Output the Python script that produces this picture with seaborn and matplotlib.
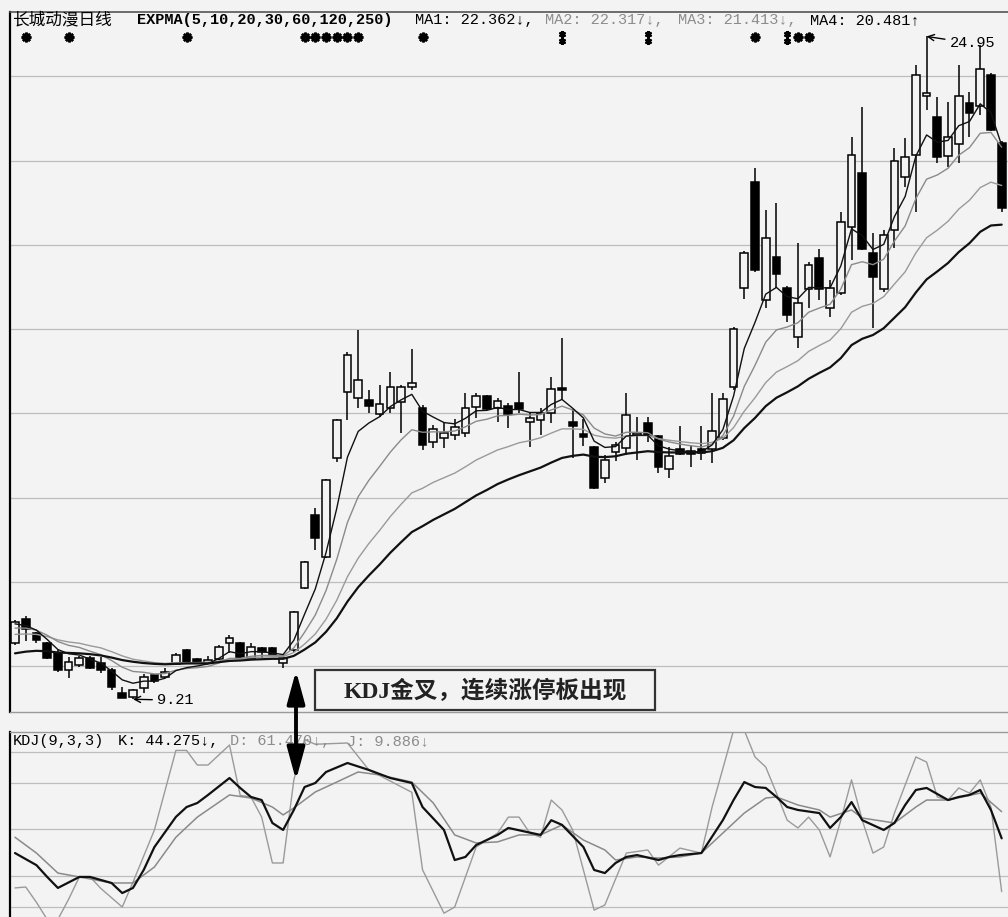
import numpy as np
import pandas as pd
import matplotlib
matplotlib.use("Agg")
import matplotlib.pyplot as plt
import seaborn as sns
from matplotlib.patches import Rectangle, FancyArrowPatch

# ---------------- data ----------------
opens = [10.55, 11.12, 10.78, 10.55, 10.31, 9.90, 10.02, 10.19, 10.07, 9.90,
         9.36, 9.26, 9.48, 9.79, 9.74, 10.05, 10.38, 10.17, 10.07, 10.17,
         10.55, 10.55, 10.17, 10.43, 10.43, 10.07, 10.38, 11.85, 13.59, 12.59,
         14.94, 16.51, 16.37, 16.32, 15.99, 16.13, 16.27, 16.63, 16.13, 15.32,
         15.42, 15.49, 15.53, 16.15, 16.41, 16.13, 16.18, 16.25, 15.80, 15.84,
         16.01, 16.60, 15.80, 15.51, 15.20, 14.47, 15.08, 15.18, 15.49, 15.77,
         15.46, 14.68, 15.15, 15.11, 15.15, 15.15, 15.42, 16.63, 18.98, 21.50,
         18.69, 19.71, 18.98, 17.81, 18.95, 19.69, 18.50, 18.86, 20.43, 21.71,
         19.81, 18.95, 20.36, 21.62, 22.14, 23.54, 23.04, 22.11, 22.40, 23.37,
         23.30, 24.04, 22.42]
highs = [11.09, 11.19, 10.81, 10.57, 10.38, 10.21, 10.24, 10.24, 10.21, 9.95,
         9.50, 9.45, 9.81, 9.81, 9.95, 10.31, 10.40, 10.19, 10.24, 10.50,
         10.74, 10.57, 10.55, 10.45, 10.45, 10.24, 11.31, 12.49, 13.75, 14.44,
         15.87, 17.46, 17.98, 16.56, 16.67, 16.98, 16.67, 17.53, 16.20, 15.72,
         15.77, 15.87, 16.48, 16.48, 16.44, 16.37, 16.25, 16.98, 16.03, 16.13,
         16.86, 17.79, 16.10, 15.87, 15.23, 15.01, 15.32, 16.48, 15.91, 15.91,
         15.49, 15.20, 15.70, 15.25, 15.70, 16.48, 16.48, 18.05, 19.86, 21.83,
         20.83, 21.00, 19.03, 20.05, 19.60, 19.90, 19.17, 20.78, 22.57, 23.28,
         20.28, 20.36, 22.30, 22.54, 24.28, 24.95, 23.52, 23.40, 24.28, 23.63,
         24.75, 24.09, 22.47]
lows = [10.50, 10.59, 10.55, 10.17, 9.86, 9.71, 9.98, 9.93, 9.83, 9.43,
        9.23, 9.21, 9.36, 9.60, 9.71, 10.02, 10.07, 10.05, 10.05, 10.14,
        10.31, 10.17, 10.14, 10.19, 10.24, 9.95, 10.33, 11.83, 12.76, 12.57,
        14.85, 15.84, 16.13, 16.01, 15.91, 16.01, 15.53, 16.56, 15.13, 15.18,
        15.18, 15.37, 15.44, 15.89, 16.08, 15.80, 15.65, 16.01, 15.20, 15.49,
        15.77, 16.32, 14.94, 15.23, 14.20, 14.35, 14.87, 15.01, 14.89, 15.32,
        14.58, 14.47, 15.01, 14.73, 14.89, 14.82, 15.37, 16.56, 18.72, 19.36,
        18.50, 18.98, 18.17, 17.55, 18.50, 18.69, 18.29, 18.81, 19.64, 19.88,
        18.03, 18.88, 19.93, 21.38, 20.78, 23.21, 21.95, 21.85, 21.95, 22.57,
        23.09, 22.71, 20.78]
closes = [11.05, 10.88, 10.62, 10.19, 9.90, 10.10, 10.19, 9.95, 9.90, 9.50,
          9.25, 9.43, 9.74, 9.64, 9.86, 10.26, 10.10, 10.07, 10.14, 10.45,
          10.67, 10.19, 10.45, 10.33, 10.26, 10.19, 11.28, 12.47, 13.04, 14.42,
          15.84, 17.39, 16.79, 16.18, 16.22, 16.63, 16.63, 16.72, 15.25, 15.63,
          15.53, 15.68, 16.13, 16.41, 16.10, 16.29, 15.99, 16.10, 15.89, 16.01,
          16.58, 16.56, 15.70, 15.44, 14.23, 14.89, 15.25, 15.96, 15.53, 15.49,
          14.73, 14.99, 15.04, 15.04, 15.06, 15.58, 16.34, 18.00, 19.81, 19.41,
          20.17, 19.31, 18.34, 18.62, 19.52, 18.95, 18.98, 20.55, 22.14, 19.90,
          19.24, 20.24, 22.00, 22.09, 24.04, 23.61, 22.09, 22.57, 23.54, 23.13,
          24.18, 22.73, 20.88]

ma1 = [11.00, 10.96, 10.85, 10.63, 10.39, 10.29, 10.26, 10.16, 10.07, 9.88,
       9.67, 9.59, 9.64, 9.64, 9.71, 9.89, 9.96, 10.00, 10.05, 10.18,
       10.34, 10.29, 10.34, 10.34, 10.31, 10.27, 10.61, 11.23, 11.83, 12.69,
       13.74, 14.96, 15.57, 15.77, 15.92, 16.16, 16.32, 16.45, 16.05, 15.91,
       15.78, 15.75, 15.88, 16.06, 16.07, 16.14, 16.09, 16.09, 16.02, 16.02,
       16.21, 16.33, 16.12, 15.89, 15.34, 15.19, 15.21, 15.46, 15.48, 15.48,
       15.23, 15.15, 15.11, 15.09, 15.08, 15.25, 15.61, 16.41, 17.54, 18.16,
       18.83, 18.99, 18.77, 18.72, 18.99, 18.98, 18.98, 19.50, 20.38, 20.22,
       19.89, 20.01, 20.67, 21.15, 22.11, 22.61, 22.44, 22.48, 22.83, 22.93,
       23.35, 23.14, 22.36]
ma2 = [10.90, 10.90, 10.85, 10.73, 10.58, 10.49, 10.44, 10.35, 10.27, 10.13,
       9.97, 9.87, 9.85, 9.81, 9.82, 9.90, 9.94, 9.96, 9.99, 10.07,
       10.18, 10.18, 10.23, 10.25, 10.25, 10.24, 10.43, 10.80, 11.21, 11.79,
       12.53, 13.41, 14.02, 14.41, 14.74, 15.08, 15.37, 15.61, 15.55, 15.56,
       15.56, 15.58, 15.68, 15.81, 15.86, 15.94, 15.95, 15.98, 15.96, 15.97,
       16.08, 16.17, 16.08, 15.96, 15.65, 15.51, 15.46, 15.55, 15.55, 15.54,
       15.39, 15.32, 15.27, 15.23, 15.20, 15.27, 15.47, 15.93, 16.64, 17.14,
       17.69, 17.98, 18.05, 18.15, 18.40, 18.50, 18.59, 18.95, 19.53, 19.60,
       19.53, 19.66, 20.09, 20.45, 21.10, 21.56, 21.66, 21.82, 22.13, 22.31,
       22.65, 22.67, 22.32]
ma3 = [10.75, 10.76, 10.75, 10.70, 10.62, 10.57, 10.54, 10.48, 10.43, 10.34,
       10.24, 10.16, 10.12, 10.08, 10.06, 10.08, 10.08, 10.08, 10.09, 10.12,
       10.17, 10.17, 10.20, 10.21, 10.22, 10.22, 10.32, 10.52, 10.76, 11.11,
       11.56, 12.12, 12.56, 12.91, 13.22, 13.55, 13.84, 14.11, 14.22, 14.36,
       14.47, 14.58, 14.73, 14.89, 15.01, 15.13, 15.21, 15.30, 15.35, 15.42,
       15.53, 15.63, 15.63, 15.62, 15.48, 15.43, 15.41, 15.46, 15.47, 15.47,
       15.40, 15.36, 15.33, 15.30, 15.28, 15.31, 15.41, 15.66, 16.05, 16.37,
       16.73, 16.98, 17.11, 17.25, 17.47, 17.61, 17.74, 18.01, 18.40, 18.54,
       18.61, 18.77, 19.07, 19.36, 19.81, 20.17, 20.35, 20.56, 20.85, 21.06,
       21.36, 21.49, 21.41]
ma4 = [10.30, 10.34, 10.36, 10.35, 10.32, 10.31, 10.30, 10.28, 10.25, 10.20,
       10.14, 10.10, 10.07, 10.05, 10.04, 10.05, 10.06, 10.06, 10.06, 10.09,
       10.12, 10.13, 10.15, 10.16, 10.17, 10.17, 10.24, 10.39, 10.56, 10.81,
       11.13, 11.53, 11.87, 12.15, 12.41, 12.69, 12.94, 13.18, 13.32, 13.47,
       13.60, 13.73, 13.89, 14.05, 14.18, 14.32, 14.43, 14.53, 14.62, 14.71,
       14.83, 14.94, 14.99, 15.02, 14.97, 14.96, 14.98, 15.04, 15.07, 15.10,
       15.08, 15.07, 15.07, 15.07, 15.07, 15.10, 15.18, 15.36, 15.65, 15.89,
       16.17, 16.37, 16.50, 16.64, 16.82, 16.96, 17.09, 17.31, 17.62, 17.77,
       17.86, 18.02, 18.27, 18.52, 18.87, 19.18, 19.37, 19.57, 19.83, 20.04,
       20.31, 20.46, 20.48]

k_idx = [0, 2, 3, 4, 6, 7, 9, 10, 11, 12, 13, 15, 16, 17, 18, 20, 21, 22, 23, 24,
         25, 26, 27, 28, 29, 31, 33, 35, 37, 38, 40, 41, 42, 43, 45, 46, 49, 50, 51, 53,
         54, 55, 56, 57, 58, 60, 61, 62, 64, 66, 67, 68, 69, 70, 71, 72, 73, 75, 76, 77,
         78, 79, 81, 82, 83, 84, 85, 87, 88, 89, 90, 91, 92]
k_val = [34.8, 27.0, 19.4, 12.3, 19.4, 19.4, 15.5, 9.0, 12.3, 23.9, 38.7, 58.1, 64.5, 67.1, 72.3, 83.2, 76.8, 71.0, 69.0, 54.2,
         49.7, 62.6, 77.4, 80.0, 87.1, 92.9, 88.4, 83.2, 80.0, 64.5, 49.7, 30.3, 32.3, 40.0, 46.5, 51.0, 46.5, 56.0, 53.0, 38.7,
         23.9, 21.9, 28.4, 32.3, 33.5, 30.3, 32.3, 33.5, 34.8, 56.0, 69.0, 80.6, 77.4, 76.8, 71.0, 64.5, 62.6, 60.6, 51.0, 58.0,
         67.7, 56.0, 49.7, 54.2, 65.8, 75.5, 76.8, 69.0, 71.0, 72.3, 75.5, 62.6, 44.3]
d_idx = [0, 2, 4, 6, 9, 11, 13, 15, 17, 20, 22, 24, 25, 26, 28, 30, 32, 34, 37, 39,
         41, 43, 45, 47, 49, 51, 53, 55, 56, 58, 60, 62, 64, 66, 68, 70, 71, 73, 75, 76,
         78, 79, 82, 84, 85, 87, 90, 92]
d_val = [45.0, 34.8, 21.9, 19.4, 15.5, 15.5, 25.8, 45.0, 58.0, 72.3, 70.3, 64.5, 59.4, 63.9, 74.2, 80.6, 87.1, 85.2, 80.6, 67.1,
         46.5, 41.3, 42.0, 46.5, 46.5, 52.9, 43.2, 36.8, 30.3, 32.3, 31.6, 32.3, 34.8, 47.7, 60.6, 70.3, 71.0, 65.8, 62.6, 58.0,
         62.6, 57.4, 54.2, 64.5, 69.0, 69.0, 73.5, 61.5]
j_idx = [0, 1, 2, 3, 4, 5, 6, 7, 8, 10, 11, 13, 15, 16, 17, 18, 20, 21, 22, 23,
         24, 25, 26, 27, 28, 31, 33, 37, 38, 40, 41, 43, 45, 46, 47, 48, 49, 50, 51, 52,
         53, 54, 55, 57, 59, 60, 62, 64, 65, 67, 68, 69, 70, 71, 72, 73, 74, 75, 76, 77,
         78, 79, 80, 81, 82, 84, 85, 86, 87, 88, 89, 90, 91, 92]
j_val = [12.3, 12.9, 3.0, -8.0, -8.0, 5.0, 19.4, 19.4, 12.0, 0.0, 16.0, 49.7, 101.0, 101.0, 91.6, 91.6, 104.5, 72.0, 71.0, 58.0,
         28.4, 28.4, 82.0, 108.0, 105.0, 105.8, 88.4, 74.0, 24.0, -4.0, 0.0, 38.7, 47.7, 58.0, 58.0, 47.7, 45.0, 69.0, 62.6, 49.7,
         23.9, -2.0, 1.3, 34.8, 36.8, 27.0, 38.0, 34.8, 64.5, 114.0, 114.0, 96.8, 90.3, 73.5, 56.0, 51.0, 58.0, 49.7, 32.3, 56.0,
         82.0, 56.0, 34.8, 38.7, 60.6, 96.8, 93.5, 71.0, 69.0, 76.8, 73.5, 82.0, 64.5, 9.9]

signal_idx = [1, 5, 16, 27, 28, 29, 30, 31, 32, 38, 69, 73, 74]
signal2_idx = [51, 59, 72]
price_grid = [10, 12, 14, 16, 18, 20, 22, 24]
kdj_grid = [0, 20, 50, 80, 100]

title_name = "长城动漫日线"
title_ind = "EXPMA(5,10,20,30,60,120,250)"
ma_labels = ["MA1: 22.362↓,", "MA2: 22.317↓,", "MA3: 21.413↓,", "MA4: 20.481↑"]
kdj_labels = ["KDJ(9,3,3)", "K: 44.275↓,", "D: 61.470↓,", "J: 9.886↓"]
note_text = "KDJ金叉，连续涨停板出现"
high_idx, high_label = 85, "24.95"
low_idx, low_label = 11, "9.21"

# ---------------- style ----------------
sns.set_theme(style="white")
plt.rcParams['font.family'] = ['DejaVu Sans', 'Noto Sans CJK SC']
BG = '#f3f3f3'
MONO = ['Liberation Mono', 'DejaVu Sans Mono']
GRAY = '#8c8c8c'

W, H = 1008, 917
def fx(px):
    return px / W
def fy(py):
    return 1 - py / H

fig = plt.figure(figsize=(10.08, 9.17), dpi=100, facecolor=BG)
ax = fig.add_axes([fx(10), fy(712), (W - 10) / W, (712 - 12) / H])
ax2 = fig.add_axes([fx(10), 0, (W - 10) / W, (917 - 732) / H])
for a in (ax, ax2):
    a.set_facecolor(BG)
    a.set_xlim(-0.466, 92.59)
    a.set_xticks([])
    a.set_yticks([])
    for s in ['right', 'bottom']:
        a.spines[s].set_visible(False)
    a.spines['left'].set_color('black')
    a.spines['left'].set_linewidth(1.6)
ax.spines['top'].set_color('#555555')
ax.spines['top'].set_linewidth(1.2)
ax.spines['bottom'].set_visible(True)
ax.spines['bottom'].set_color('#9a9a9a')
ax.spines['bottom'].set_linewidth(1.0)
ax2.spines['top'].set_color('#9a9a9a')
ax2.spines['top'].set_linewidth(1.0)
ax.set_ylim(8.907, 25.53)
ax2.set_ylim(-6.45, 112.9)

for g in price_grid:
    ax.axhline(g, color='#bdbdbd', lw=0.9, zorder=0)
for g in kdj_grid:
    ax2.axhline(g, color='#bdbdbd', lw=0.9, zorder=0)

# ---------------- candles ----------------
idx = np.arange(len(closes))
o = np.array(opens)
c = np.array(closes)
up = c >= o
ax.vlines(idx, lows, highs, color='black', lw=1.1, zorder=2)
bottoms = np.minimum(o, c)
heights = np.maximum(np.abs(c - o), 0.02)
ax.bar(idx[up], heights[up], bottom=bottoms[up], width=0.72,
       facecolor=BG, edgecolor='black', linewidth=1.1, zorder=3)
ax.bar(idx[~up], heights[~up], bottom=bottoms[~up], width=0.72,
       facecolor='black', edgecolor='black', linewidth=1.1, zorder=3)

# ---------------- EXPMA lines ----------------
ma_df = pd.DataFrame({'i': idx, 'MA1': ma1, 'MA2': ma2, 'MA3': ma3, 'MA4': ma4})
for name, col, lw in [('MA3', '#9a9a9a', 1.0), ('MA2', '#8a8a8a', 1.0),
                      ('MA4', '#111111', 1.6), ('MA1', '#111111', 1.0)]:
    sns.lineplot(data=ma_df, x='i', y=name, ax=ax, color=col, lw=lw, zorder=4,
                 legend=False)
ax.set_xlabel('')
ax.set_ylabel('')

# signal markers
xt = ax.get_xaxis_transform()
ax.plot(signal_idx, [0.964] * len(signal_idx), ls='none', marker=(8, 2, 0),
        ms=7, mew=1.8, color='black', transform=xt, clip_on=False, zorder=5)
ax.plot(signal2_idx, [0.969] * len(signal2_idx), ls='none', marker=(6, 2, 0),
        ms=5, mew=1.6, color='black', transform=xt, clip_on=False, zorder=5)
ax.plot(signal2_idx, [0.959] * len(signal2_idx), ls='none', marker=(6, 2, 0),
        ms=5, mew=1.6, color='black', transform=xt, clip_on=False, zorder=5)

# high / low labels
ax.annotate(high_label, xy=(high_idx, highs[high_idx]), xytext=(23, -7),
            textcoords='offset pixels', ha='left', va='center', fontsize=11,
            family=MONO, color='black',
            arrowprops=dict(arrowstyle='->', color='black', lw=1.0,
                            shrinkA=1, shrinkB=0), zorder=6)
ax.annotate(low_label, xy=(low_idx, lows[low_idx]), xytext=(24, -1),
            textcoords='offset pixels', ha='left', va='center', fontsize=11,
            family=MONO, color='black',
            arrowprops=dict(arrowstyle='->', color='black', lw=1.0,
                            shrinkA=1, shrinkB=0), zorder=6)

# ---------------- KDJ ----------------
k_df = pd.DataFrame({'i': k_idx, 'v': k_val})
d_df = pd.DataFrame({'i': d_idx, 'v': d_val})
j_df = pd.DataFrame({'i': j_idx, 'v': j_val})
sns.lineplot(data=j_df, x='i', y='v', ax=ax2, color='#9a9a9a', lw=1.0, legend=False)
sns.lineplot(data=d_df, x='i', y='v', ax=ax2, color='#8a8a8a', lw=1.1, legend=False)
sns.lineplot(data=k_df, x='i', y='v', ax=ax2, color='#111111', lw=1.6, legend=False)
ax2.set_xlabel('')
ax2.set_ylabel('')

# ---------------- texts ----------------
ty = fy(20)
fig.text(fx(12), ty, title_name, fontsize=12, family=['Noto Sans CJK SC'],
         va='center', ha='left', color='black')
fig.text(fx(137), ty, title_ind, fontsize=11, family=MONO, va='center',
         ha='left', color='black', weight='bold')
for x0, lab, col in zip([415, 545, 678, 810], ma_labels,
                        ['black', GRAY, GRAY, 'black']):
    fig.text(fx(x0), ty, lab, fontsize=11, family=MONO, va='center', ha='left',
             color=col)

ky = fy(741)
for x0, lab, col in zip([13, 118, 230, 347], kdj_labels,
                        ['black', 'black', GRAY, GRAY]):
    fig.text(fx(x0), ky, lab, fontsize=11, family=MONO, va='center', ha='left',
             color=col, zorder=5)

# annotation box
box = Rectangle((fx(315), fy(710)), (655 - 315) / W, 40 / H,
                transform=fig.transFigure, facecolor=BG, edgecolor='#333333',
                lw=1.6, zorder=6)
fig.add_artist(box)
fig.text(fx(485), fy(691), note_text, fontsize=17, weight='bold',
         family=['Liberation Serif', 'Noto Sans CJK SC'], ha='center',
         va='center', color='#222222', zorder=7)

# double-headed vertical arrow
arr = FancyArrowPatch((fx(296), fy(668)), (fx(296), fy(783)),
                      transform=fig.transFigure,
                      arrowstyle='<|-|>,head_length=1.1,head_width=0.3',
                      mutation_scale=18, lw=2.8, color='black', zorder=8)
fig.add_artist(arr)

fig.savefig('out.png', dpi=100, facecolor=BG)
